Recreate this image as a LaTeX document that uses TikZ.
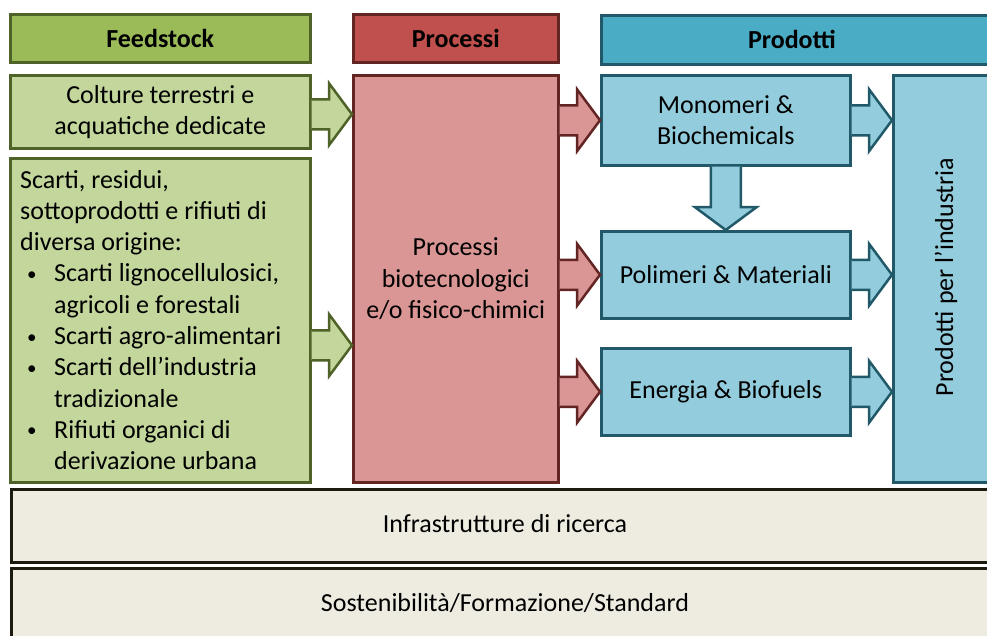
\documentclass[tikz,border=0pt]{standalone}
\usepackage{fontspec}
\setmainfont{Carlito}
\usetikzlibrary{calc}
\definecolor{gdark}{HTML}{4F6228}
\definecolor{ghead}{HTML}{9BBB59}
\definecolor{glight}{HTML}{C3D69B}
\definecolor{rdark}{HTML}{632523}
\definecolor{rhead}{HTML}{C0504D}
\definecolor{rlight}{HTML}{D99694}
\definecolor{bdark}{HTML}{215968}
\definecolor{bhead}{HTML}{4BACC6}
\definecolor{blight}{HTML}{93CDDD}
\definecolor{kdark}{HTML}{1D1B10}
\definecolor{klight}{HTML}{EEECE1}
\newcommand\blockarrow[3]{%
  \coordinate (ba-h) at ($(#3)!23pt!(#2)$);
  \draw[#1] ($(#2)!15pt!90:(#3)$) -- ($(ba-h)!15pt!90:(#3)$) -- ($(ba-h)!31pt!90:(#3)$)
    -- (#3) -- ($(ba-h)!31pt!-90:(#3)$) -- ($(ba-h)!15pt!-90:(#3)$) -- ($(#2)!15pt!-90:(#3)$);
}
\newcommand\bul{\makebox[34pt][l]{\hspace{7pt}\raisebox{1.5pt}{\fontsize{19}{19}\selectfont\textbullet}}}
\newcommand\ind{\hspace*{34pt}}
\begin{document}
\begin{tikzpicture}[x=1pt,y=-1pt,
  base/.style={line width=2.5pt, inner sep=0pt, align=center, anchor=north west,
    font=\fontsize{26}{31.3}\selectfont, text=black},
  gbox/.style={base, draw=gdark, fill=glight},
  ghd/.style={base, draw=gdark, fill=ghead, font=\fontsize{26}{31.3}\selectfont\bfseries},
  rbox/.style={base, draw=rdark, fill=rlight},
  rhd/.style={base, draw=rdark, fill=rhead, font=\fontsize{26}{31.3}\selectfont\bfseries},
  bbox/.style={base, draw=bdark, fill=blight},
  bhd/.style={base, draw=bdark, fill=bhead},
  kbox/.style={base, draw=kdark, fill=klight},
  garr/.style={draw=gdark, fill=glight, line width=2.5pt, line join=miter},
  rarr/.style={draw=rdark, fill=rlight, line width=2.5pt, line join=miter},
  barr/.style={draw=bdark, fill=blight, line width=2.5pt, line join=miter},
  lbl/.style={font=\fontsize{26}{31.3}\selectfont, text=black, inner sep=0pt}
]
\useasboundingbox (0,0) rectangle (987,635);
\fill[white] (0,0) rectangle (987,635);
% headers
\node[ghd, minimum width=300, minimum height=48] (hfeed) at (9,13) {Feedstock};
\node[rhd, minimum width=205, minimum height=48] (hproc) at (352,13) {Processi};
\node[bhd, minimum width=400, minimum height=49] (hprod) at (600,14) {};
\node[lbl, font=\fontsize{26}{31.3}\selectfont\bfseries] (hprodt) at (792,39) {Prodotti};
% feedstock boxes
\node[gbox, minimum width=300, minimum height=73] (colt) at (9,74) {Colture terrestri e\\acquatiche dedicate};
\node[gbox, minimum width=300, minimum height=324] (scarti) at (9,157) {};
\node[lbl, align=left, anchor=west] (scartit) at (20,320)
  {Scarti, residui,\\sottoprodotti e rifiuti di\\diversa origine:\\
   \bul Scarti lignocellulosici,\\\ind agricoli e forestali\\
   \bul Scarti agro-alimentari\\
   \bul Scarti dell’industria\\\ind tradizionale\\
   \bul Rifiuti organici di\\\ind derivazione urbana};
% process box
\node[rbox, minimum width=205, minimum height=407] (proc) at (352,74) {Processi\\biotecnologici\\e/o fisico-chimici};
% product boxes
\node[bbox, minimum width=249, minimum height=90] (mono) at (600,74) {Monomeri \&\\Biochemicals};
\node[bbox, minimum width=249, minimum height=87] (poli) at (600,230) {Polimeri \& Materiali};
\node[bbox, minimum width=249, minimum height=87] (ener) at (600,347) {Energia \& Biofuels};
\node[bbox, minimum width=108, minimum height=407] (prod) at (892,74) {};
\node[lbl, rotate=90] (prodt) at (946,277) {Prodotti per l’industria};
% bottom boxes
\node[kbox, minimum width=990, minimum height=73] (infra) at (10,488) {};
\node[lbl] (infrat) at (505,524) {Infrastrutture di ricerca};
\node[kbox, minimum width=990, minimum height=78] (sost) at (10,567) {};
\node[lbl] (sostt) at (505,603) {Sostenibilità/Formazione/Standard};
% arrows
\coordinate (a1s) at ($(colt.east)+(0,2.5)$);
\coordinate (a2s) at ($(scarti.east)+(0,25)$);
\blockarrow{garr}{a1s}{proc.west |- a1s}
\blockarrow{garr}{a2s}{proc.west |- a2s}
\blockarrow{rarr}{proc.east |- mono.west}{mono.west}
\blockarrow{rarr}{proc.east |- poli.west}{poli.west}
\blockarrow{rarr}{proc.east |- ener.west}{ener.west}
\blockarrow{barr}{mono.east}{prod.west |- mono.east}
\blockarrow{barr}{poli.east}{prod.west |- poli.east}
\blockarrow{barr}{ener.east}{prod.west |- ener.east}
\blockarrow{barr}{mono.south}{poli.north}
\end{tikzpicture}
\end{document}
